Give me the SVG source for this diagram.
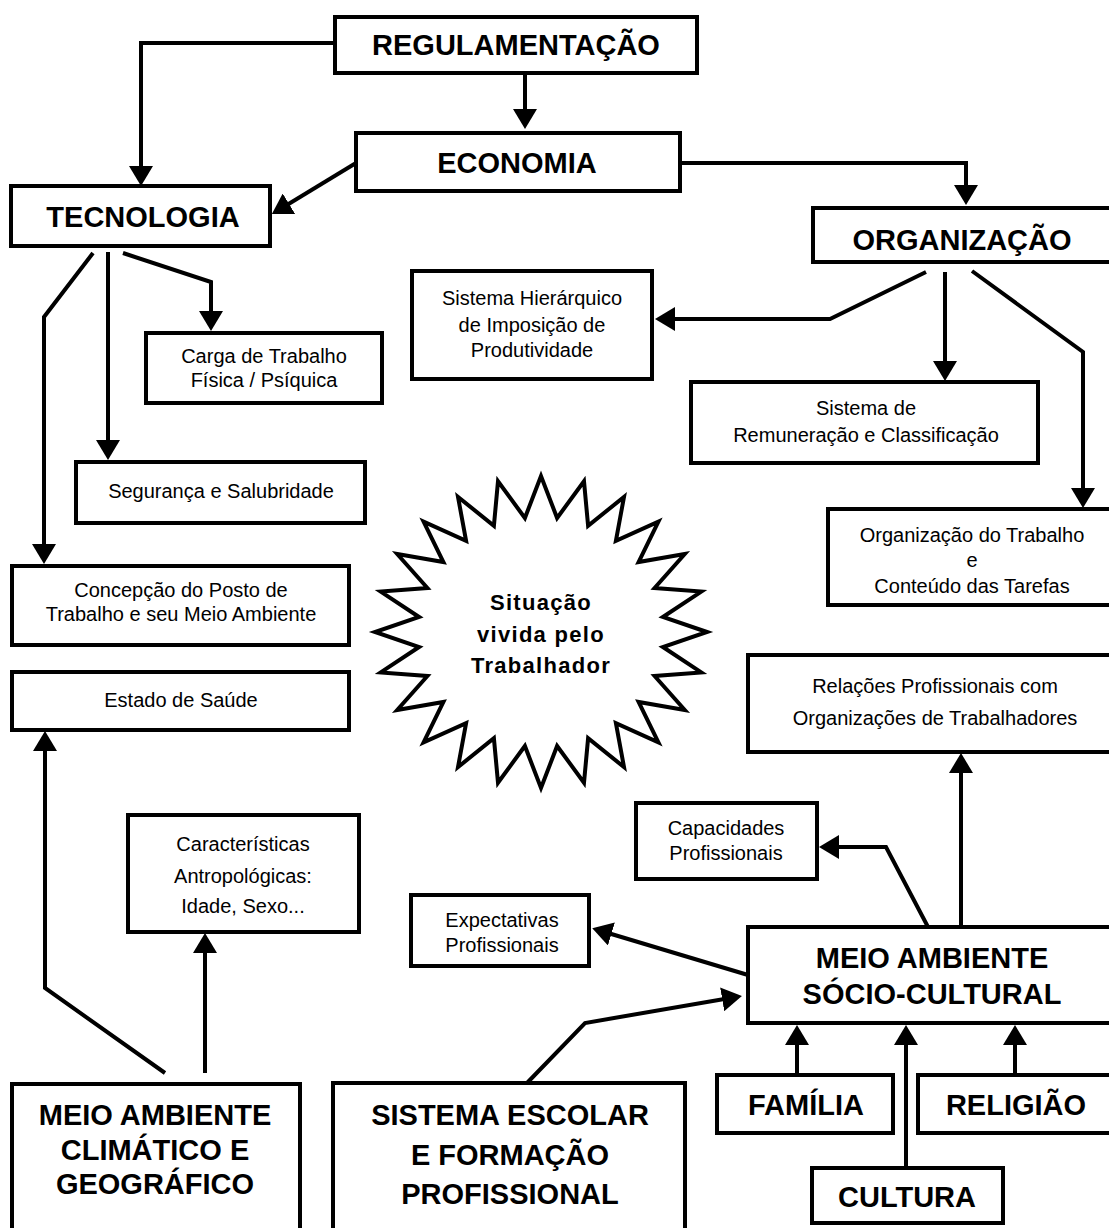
<svg xmlns="http://www.w3.org/2000/svg" width="1109" height="1228" viewBox="0 0 1109 1228">
<style>
.box{fill:#fff;stroke:#000;stroke-width:4}
.conn{fill:none;stroke:#000;stroke-width:4;stroke-linejoin:miter}
.big{font-family:"Liberation Sans",Arial,sans-serif;font-weight:bold;font-size:29px;text-anchor:middle;fill:#000}
.sm{font-family:"Liberation Sans",Arial,sans-serif;font-size:20px;text-anchor:middle;fill:#000}
.star{font-family:"Liberation Sans",Arial,sans-serif;font-weight:bold;font-size:22px;letter-spacing:1.3px;text-anchor:middle;fill:#000}
</style>
<defs>
<marker id="ah" markerUnits="userSpaceOnUse" markerWidth="20" markerHeight="24" viewBox="0 0 20 24" refX="14" refY="12" orient="auto">
<path d="M0,0 L20,12 L0,24 z" fill="#000"/>
</marker>
</defs>
<rect width="1109" height="1228" fill="#fff"/>

<g id="connectors">
<path class="conn" marker-end="url(#ah)" d="M335,43 H141 V180"/>
<path class="conn" marker-end="url(#ah)" d="M525,73 V123"/>
<path class="conn" marker-end="url(#ah)" d="M356,163 L277,211"/>
<path class="conn" marker-end="url(#ah)" d="M680,163 H966 V199"/>
<path class="conn" marker-end="url(#ah)" d="M926,272 L830,319 H661"/>
<path class="conn" marker-end="url(#ah)" d="M945,272 V375"/>
<path class="conn" marker-end="url(#ah)" d="M972,271 L1083,352 V502"/>
<path class="conn" marker-end="url(#ah)" d="M123,253 L211,282 V325"/>
<path class="conn" marker-end="url(#ah)" d="M108,252 V454"/>
<path class="conn" marker-end="url(#ah)" d="M93,253 L44,317 V558"/>
<path class="conn" marker-end="url(#ah)" d="M165,1073 L45,988 V737"/>
<path class="conn" marker-end="url(#ah)" d="M205,1073 V939"/>
<path class="conn" marker-end="url(#ah)" d="M961,927 V759"/>
<path class="conn" marker-end="url(#ah)" d="M928,927 L886,847 H825"/>
<path class="conn" marker-end="url(#ah)" d="M748,975 L598,930"/>
<path class="conn" marker-end="url(#ah)" d="M527,1083 L585,1023 L736,997"/>
<path class="conn" marker-end="url(#ah)" d="M797,1075 V1031"/>
<path class="conn" marker-end="url(#ah)" d="M906,1168 V1031"/>
<path class="conn" marker-end="url(#ah)" d="M1015,1075 V1031"/>
</g>

<g id="regulamentacao"><rect class="box" x="335" y="17" width="362" height="56"/><text class="big" x="516" y="55">REGULAMENTAÇÃO</text></g>
<g id="economia"><rect class="box" x="356" y="133" width="324" height="58"/><text class="big" x="517" y="173">ECONOMIA</text></g>
<g id="tecnologia"><rect class="box" x="11" y="186" width="259" height="60"/><text class="big" x="143" y="227">TECNOLOGIA</text></g>
<g id="organizacao"><rect class="box" x="813" y="208" width="300" height="54"/><text class="big" x="962" y="250">ORGANIZAÇÃO</text></g>
<g id="sistema-hierarquico"><rect class="box" x="412" y="271" width="240" height="108"/><text class="sm" x="532" y="305">Sistema Hierárquico</text><text class="sm" x="532" y="332">de Imposição de</text><text class="sm" x="532" y="357">Produtividade</text></g>
<g id="remuneracao"><rect class="box" x="691" y="382" width="347" height="81"/><text class="sm" x="866" y="415">Sistema de</text><text class="sm" x="866" y="442">Remuneração e Classificação</text></g>
<g id="organizacao-trabalho"><rect class="box" x="828" y="509" width="285" height="96"/><text class="sm" x="972" y="542">Organização do Trabalho</text><text class="sm" x="972" y="567">e</text><text class="sm" x="972" y="593">Conteúdo das Tarefas</text></g>
<g id="carga"><rect class="box" x="146" y="333" width="236" height="70"/><text class="sm" x="264" y="363">Carga de Trabalho</text><text class="sm" x="264" y="387">Física / Psíquica</text></g>
<g id="seguranca"><rect class="box" x="76" y="462" width="289" height="61"/><text class="sm" x="221" y="498">Segurança e Salubridade</text></g>
<g id="concepcao"><rect class="box" x="12" y="566" width="337" height="79"/><text class="sm" x="181" y="597">Concepção do Posto de</text><text class="sm" x="181" y="621">Trabalho e seu Meio Ambiente</text></g>
<g id="estado-saude"><rect class="box" x="12" y="672" width="337" height="58"/><text class="sm" x="181" y="707">Estado de Saúde</text></g>
<g id="caracteristicas"><rect class="box" x="128" y="815" width="231" height="117"/><text class="sm" x="243" y="851">Características</text><text class="sm" x="243" y="883">Antropológicas:</text><text class="sm" x="243" y="913">Idade, Sexo...</text></g>
<g id="meio-climatico"><rect class="box" x="12" y="1084" width="288" height="160"/><text class="big" x="155" y="1125">MEIO AMBIENTE</text><text class="big" x="155" y="1160">CLIMÁTICO E</text><text class="big" x="155" y="1194">GEOGRÁFICO</text></g>
<g id="sistema-escolar"><rect class="box" x="333" y="1083" width="352" height="160"/><text class="big" x="510" y="1125">SISTEMA ESCOLAR</text><text class="big" x="510" y="1165">E FORMAÇÃO</text><text class="big" x="510" y="1204">PROFISSIONAL</text></g>
<g id="relacoes"><rect class="box" x="748" y="655" width="365" height="97"/><text class="sm" x="935" y="693">Relações Profissionais com</text><text class="sm" x="935" y="725">Organizações de Trabalhadores</text></g>
<g id="capacidades"><rect class="box" x="636" y="803" width="181" height="76"/><text class="sm" x="726" y="835">Capacidades</text><text class="sm" x="726" y="860">Profissionais</text></g>
<g id="expectativas"><rect class="box" x="411" y="895" width="178" height="71"/><text class="sm" x="502" y="927">Expectativas</text><text class="sm" x="502" y="952">Profissionais</text></g>
<g id="meio-sociocultural"><rect class="box" x="748" y="927" width="365" height="96"/><text class="big" x="932" y="968">MEIO AMBIENTE</text><text class="big" x="932" y="1004">SÓCIO-CULTURAL</text></g>
<g id="familia"><rect class="box" x="717" y="1075" width="176" height="58"/><text class="big" x="806" y="1115">FAMÍLIA</text></g>
<g id="religiao"><rect class="box" x="918" y="1075" width="195" height="58"/><text class="big" x="1016" y="1115">RELIGIÃO</text></g>
<g id="cultura"><rect class="box" x="812" y="1168" width="191" height="55"/><text class="big" x="907" y="1207">CULTURA</text></g>

<g id="situacao">
<polygon fill="#fff" stroke="#000" stroke-width="4" stroke-linejoin="miter" points="707,632 662.9,617 701.3,591.6 654.6,588 684.8,554 638.6,562 658.4,521.7 615.9,540.8 624,496.9 588.1,525.8 584,481.3 557.1,518 541,476 524.9,518 498,481.3 493.9,525.8 458,496.9 466.1,540.8 423.6,521.7 443.4,562 397.2,554 427.4,588 380.7,591.6 419.1,617 375,632 419.1,647 380.7,672.4 427.4,676 397.2,710 443.4,702 423.6,742.3 466.1,723.2 458,767.1 493.9,738.2 498,782.7 524.9,746 541,788 557.1,746 584,782.7 588.1,738.2 624,767.1 615.9,723.2 658.4,742.3 638.6,702 684.8,710 654.6,676 701.3,672.4 662.9,647"/>
<text class="star" x="541" y="610">Situação</text>
<text class="star" x="541" y="642">vivida pelo</text>
<text class="star" x="541" y="673">Trabalhador</text>
</g>
</svg>
